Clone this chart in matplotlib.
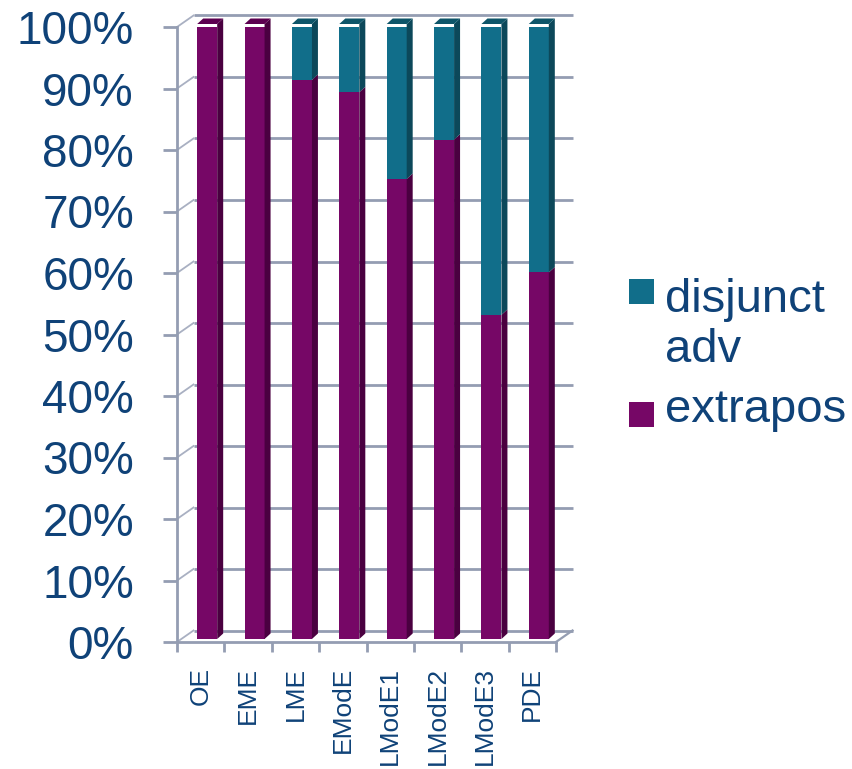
import numpy as np
import matplotlib.pyplot as plt
from matplotlib.patches import Polygon, Rectangle
from matplotlib.transforms import ScaledTranslation

plt.rcParams['font.family'] = ['Liberation Sans', 'DejaVu Sans']

# shares per category (percent)
categorias = ["OE", "EME", "LME", "EModE", "LModE1", "LModE2", "LModE3", "PDE"]
extrapos = [100.0, 100.0, 90.9, 88.9, 74.8, 81.2, 52.7, 59.6]
disjunct_adv = [0.0, 0.0, 9.1, 11.1, 25.2, 18.8, 47.3, 40.4]
series_labels = ["extrapos", "disjunct\nadv"]
yticks = np.arange(0, 101, 10)

texto = "#0F4278"
rejilla = "#949DB2"
# front, side, top faces
col_extrapos = ("#760766", "#4A0040", "#5C0050")
col_disjunct = ("#116E8A", "#0C485A", "#0E5569")

W, H = 852, 769
fig = plt.figure(figsize=(W / 100, H / 100), dpi=100)
ax = fig.add_axes([177 / W, (H - 642) / H, (556 - 177) / W, (642 - 27) / H])
ax.set_xlim(-0.5, len(categorias) - 0.5)
ax.set_ylim(0, 100)

px_x = (556 - 177) / len(categorias)
px_y = (642 - 27) / 100
wall_dx, wall_dy = 16.5 / px_x, 11.5 / px_y
depth_dx, depth_dy = 6 / px_x, 5.5 / px_y
bar_w = 20 / px_x

# back wall gridlines and left wall diagonals
x0, x1 = -0.5, len(categorias) - 0.5
for v in yticks:
    ax.plot([x0 + wall_dx, x1 + wall_dx], [v + wall_dy, v + wall_dy],
            color=rejilla, lw=2.0, zorder=1, clip_on=False, solid_capstyle="butt")
    ax.plot([x0, x0 + wall_dx], [v, v + wall_dy], color="#A9B0C2", lw=1.3,
            zorder=1, clip_on=False)
ax.plot([x1, x1 + wall_dx], [0, wall_dy], color=rejilla, lw=1.6, zorder=1, clip_on=False)

# bars sit a little behind the front plane
bar_tr = ax.transData + ScaledTranslation(6.5 / 100, 3 / 100, fig.dpi_scale_trans)
x = np.arange(len(categorias))
bottom = np.zeros(len(categorias))
tops = {}
for vals, cols in [(extrapos, col_extrapos), (disjunct_adv, col_disjunct)]:
    vals = np.array(vals)
    ax.bar(x, vals, bottom=bottom, width=bar_w, color=cols[0], linewidth=0,
           zorder=3, transform=bar_tr)
    for xi, b, v in zip(x, bottom, vals):
        if v <= 0:
            continue
        xr = xi + bar_w / 2
        side = [(xr, b), (xr, b + v), (xr + depth_dx, b + v + depth_dy), (xr + depth_dx, b + depth_dy)]
        ax.add_patch(Polygon(side, closed=True, facecolor=cols[1], lw=0,
                             zorder=3, transform=bar_tr, clip_on=False))
        tops[xi] = (b + v, cols[2])
    bottom = bottom + vals

for xi, (t, c) in tops.items():
    xl, xr = xi - bar_w / 2, xi + bar_w / 2
    top = [(xl, t), (xr, t), (xr + depth_dx, t + depth_dy), (xl + depth_dx, t + depth_dy)]
    ax.add_patch(Polygon(top, closed=True, facecolor=c, lw=0, zorder=3,
                         transform=bar_tr, clip_on=False))

# front axes
for s in ["top", "right"]:
    ax.spines[s].set_visible(False)
for s in ["left", "bottom"]:
    ax.spines[s].set_color(rejilla)
    ax.spines[s].set_linewidth(2.0)
    ax.spines[s].set_zorder(2)

ax.set_yticks(yticks)
ax.set_yticklabels([f"{v}%" for v in yticks])
ax.tick_params(axis="y", length=10, width=2.0, color=rejilla, pad=21,
               labelsize=33, labelcolor=texto)
ax.set_xticks(x)
ax.set_xticklabels(categorias, rotation=90, va="top", ha="center")
ax.set_xticks(np.arange(-0.5, len(categorias)), minor=True)
ax.tick_params(axis="x", which="major", length=0, pad=18, labelsize=19, labelcolor=texto)
ax.tick_params(axis="x", which="minor", length=7, width=2.0, color=rejilla)

# legend, top entry first; text y is the baseline of the last line
legend_items = [(series_labels[1], col_disjunct[0], 291, 362),
                (series_labels[0], col_extrapos[0], 414.5, 422)]
for label, c, yc, yb in legend_items:
    fig.patches.append(Rectangle((629 / W, 1 - (yc + 12.5) / H), 25 / W, 25 / H,
                                 transform=fig.transFigure, facecolor=c, lw=0))
    fig.text(665 / W, 1 - yb / H, label, fontsize=34, color=texto,
             va="baseline", ha="left", linespacing=1.19)

fig.savefig("out.png", dpi=100)
